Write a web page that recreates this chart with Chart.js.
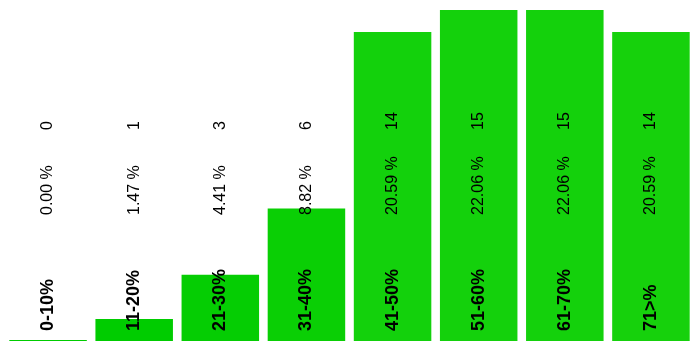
<!DOCTYPE html>
<html lang="en">
<head>
    <meta charset="UTF-8">
    <title>Age groups</title>
    <style>
        body { margin: 0; background: #fff; }
        #wrap { width: 700px; height: 350px; }
    </style>
</head>
<body>
<script src="https://cdn.jsdelivr.net/npm/chart.js"></script>
<div id="wrap"><canvas id="bar-chart" width="700" height="350"></canvas></div>

<script>
    var groupNames = ["0-10%", "11-20%", "21-30%", "31-40%", "41-50%", "51-60%", "61-70%", "71>%"];
    var groupCount = [0, 1, 3, 6, 14, 15, 15, 14];
    var barColors = ["#00cc00", "#00cc00", "#05cd03", "#0acf05", "#13d10c", "#14d10c", "#14d10c", "#16d10c"];

    var total = 0;
    for (var i = 0; i < groupCount.length; i++) {
        total += groupCount[i];
    }

    // writes count, percent and name up the middle of each bar
    var barText = {
        id: 'barText',
        afterDatasetsDraw: function (chart) {
            var ctx = chart.ctx;
            var bars = chart.getDatasetMeta(0).data;
            ctx.save();
            ctx.fillStyle = '#000';
            ctx.textAlign = 'left';
            ctx.textBaseline = 'middle';
            for (var i = 0; i < bars.length; i++) {
                var x = bars[i].x;
                var pct = (groupCount[i] / total * 100).toFixed(2) + ' %';
                var rows = [
                    [String(groupCount[i]), 130, '16px "Liberation Sans", Arial, sans-serif'],
                    [pct, 215, '16px "Liberation Sans", Arial, sans-serif'],
                    [groupNames[i], 331, 'bold 18px "Liberation Sans", Arial, sans-serif']
                ];
                for (var r = 0; r < rows.length; r++) {
                    ctx.save();
                    ctx.translate(x, rows[r][1]);
                    ctx.rotate(-Math.PI / 2);
                    ctx.font = rows[r][2];
                    ctx.fillText(rows[r][0], 0, 0);
                    ctx.restore();
                }
            }
            ctx.restore();
        }
    };

    new Chart(document.getElementById("bar-chart"), {
        type: 'bar',
        data: {
            labels: groupNames,
            datasets: [{
                data: groupCount,
                backgroundColor: barColors,
                borderWidth: 0,
                minBarLength: 1,
                barPercentage: 0.9,
                categoryPercentage: 1.0
            }]
        },
        options: {
            responsive: false,
            animation: false,
            layout: { padding: { left: 5, right: 6, top: 10, bottom: 9 } },
            plugins: {
                legend: { display: false },
                tooltip: { enabled: false }
            },
            scales: {
                x: { display: false },
                y: { display: false, min: 0, max: 15 }
            }
        },
        plugins: [barText]
    });
</script>
</body>
</html>
